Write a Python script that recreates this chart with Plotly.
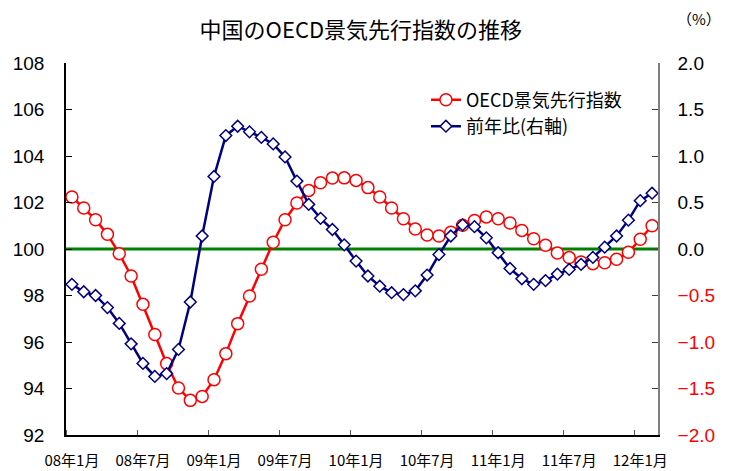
import plotly.graph_objects as go

# ---- data ----
MONTHS = [f"{y:02d}年{m}月" for y in range(8, 13) for m in range(1, 13)][:50]
TICK_LABELS = ["08年1月", "08年7月", "09年1月", "09年7月", "10年1月",
               "10年7月", "11年1月", "11年7月", "12年1月"]

OECD_CLI = [102.24, 101.76, 101.26, 100.63, 99.80, 98.84, 97.62, 96.32, 95.07, 94.02,
            93.49, 93.66, 94.38, 95.50, 96.79, 97.98, 99.13, 100.29, 101.26, 101.98,
            102.52, 102.85, 103.05, 103.06, 102.95, 102.64, 102.24, 101.76, 101.30, 100.86,
            100.60, 100.56, 100.72, 101.02, 101.23, 101.38, 101.30, 101.12, 100.80, 100.44,
            100.16, 99.83, 99.63, 99.44, 99.37, 99.41, 99.56, 99.86, 100.42, 101.00]

YOY = [-0.38, -0.46, -0.50, -0.63, -0.80, -1.02, -1.23, -1.37, -1.34, -1.08,
       -0.57, 0.14, 0.78, 1.22, 1.32, 1.26, 1.20, 1.13, 0.99, 0.73,
       0.48, 0.33, 0.21, 0.045, -0.13, -0.29, -0.40, -0.47, -0.49, -0.45,
       -0.28, -0.06, 0.14, 0.26, 0.24, 0.12, -0.04, -0.21, -0.32, -0.38,
       -0.34, -0.27, -0.22, -0.165, -0.09, 0.02, 0.14, 0.31, 0.52, 0.60]

BASELINE = 100
LEFT_TICKS = [92, 94, 96, 98, 100, 102, 104, 106, 108]
RIGHT_TICKS = [-2.0, -1.5, -1.0, -0.5, 0.0, 0.5, 1.0, 1.5, 2.0]

x = list(range(len(MONTHS)))
tick_pos = [MONTHS.index(t) for t in TICK_LABELS]

right_text = []
for v in RIGHT_TICKS:
    if v < 0:
        right_text.append(f'<span style="color:#FF0000">−{abs(v):.1f}</span>')
    else:
        right_text.append(f"{v:.1f}")

fig = go.Figure()
fig.add_trace(go.Scatter(
    x=x, y=OECD_CLI, name="OECD景気先行指数", mode="lines+markers",
    line=dict(color="#FF0000", width=2.5),
    marker=dict(symbol="circle", size=12, color="white",
                line=dict(color="#FF0000", width=1.5)),
    yaxis="y"))
fig.add_trace(go.Scatter(
    x=x, y=YOY, name="前年比(右軸)", mode="lines+markers",
    line=dict(color="#000080", width=2.5),
    marker=dict(symbol="diamond", size=9, color="white",
                line=dict(color="#000080", width=1.5)),
    yaxis="y2"))

fig.add_shape(type="line", xref="paper", x0=0, x1=1, yref="y",
              y0=BASELINE, y1=BASELINE, line=dict(color="#008000", width=3),
              layer="below")

fig.update_layout(
    template="none",
    width=729, height=471,
    margin=dict(l=66, r=71, t=63, b=36, autoexpand=False),
    paper_bgcolor="white", plot_bgcolor="white",
    font=dict(family="Noto Sans CJK JP", color="black"),
    title=dict(text="中国のOECD景気先行指数の推移", x=0.495, xanchor="center",
               y=0.936, yanchor="middle",
               font=dict(family="Noto Sans CJK JP", size=22, color="black")),
    showlegend=True,
    legend=dict(x=0.608, y=0.95, xanchor="left", yanchor="top",
                bgcolor="rgba(0,0,0,0)", font=dict(size=18, family="Noto Sans CJK JP"),
                tracegroupgap=0, borderwidth=0),
    xaxis=dict(range=[-0.5, len(MONTHS) - 0.5], tickmode="array",
               tickvals=tick_pos, ticktext=TICK_LABELS, ticks="",
               showline=True, linecolor="black", linewidth=1.5, mirror=False,
               showgrid=False, zeroline=False, ticklabelstandoff=11, automargin=False,
               tickfont=dict(size=15, family="Noto Sans CJK JP"),
               minor=dict(ticks="inside", tick0=-0.5, dtick=6, ticklen=5,
                          tickcolor="#555555", showgrid=False)),
    yaxis=dict(range=[92, 108], tickvals=LEFT_TICKS, ticks="inside", ticklen=6,
               tickcolor="black", showline=True, linecolor="black", linewidth=1.5,
               showgrid=False, zeroline=False, ticklabelstandoff=16, automargin=False,
               tickfont=dict(size=19, family="Liberation Sans")),
    yaxis2=dict(range=[-2, 2], tickvals=RIGHT_TICKS, ticktext=right_text,
                overlaying="y", side="right", ticks="inside", ticklen=6,
                tickcolor="#404040", showline=True, linecolor="#808080", linewidth=1.5,
                showgrid=False, zeroline=False, ticklabelstandoff=14, automargin=False,
                tickfont=dict(size=19, family="Liberation Sans")),
)

fig.add_annotation(text="（%）", xref="paper", yref="paper", x=1.07, y=1.12,
                   xanchor="center", yanchor="middle", showarrow=False,
                   font=dict(size=15, family="Noto Sans CJK JP"))

fig.write_html("out.html", config={"displayModeBar": False},
               post_script="document.body.style.margin='0';document.body.style.padding='0';")
